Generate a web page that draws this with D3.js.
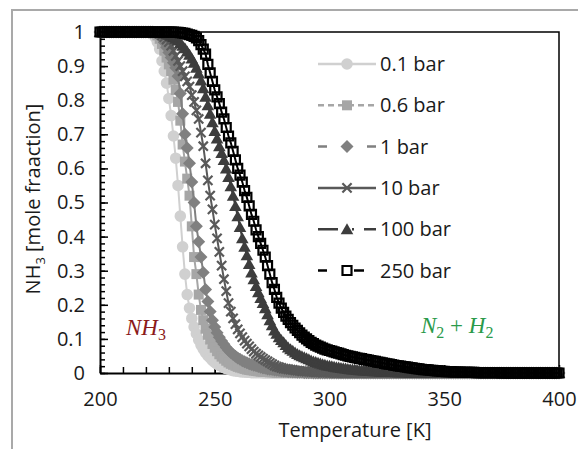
<html>
<head>
<title>NH3 mole fraction vs temperature</title>
<script src="https://d3js.org/d3.v7.min.js"></script>
<style>
	body {margin: 0; background: white;}
	svg {display: block; font-family: "Open Sans", sans-serif;}
</style>
</head>
<body>
<div id="chart"></div>
<script>
// temperature grid [K], one point every kelvin
var temps = d3.range(200, 401);

// NH3 mole fraction, 200..400 K
var bar01 = [
	1,1,1,1,1,1,1,1,1,1,
	1,1,1,1,1,1,1,1,1,1,
	1,0.999,0.997,0.993,0.985,0.97,0.95,0.915,0.885,0.85,
	0.805,0.755,0.695,0.63,0.55,0.46,0.37,0.29,0.23,0.19,
	0.16,0.135,0.115,0.097,0.082,0.07,0.06,0.051,0.044,0.037,
	0.031,0.026,0.022,0.019,0.016,0.013,0.011,0.009,0.007,0.006,
	0.005,0.004,0.003,0.003,0.002,0.002,0.001,0.001,0.001,0.001,
	0.001,0,0,0,0,0,0,0,0,0,
	0,0,0,0,0,0,0,0,0,0,
	0,0,0,0,0,0,0,0,0,0,
	0,0,0,0,0,0,0,0,0,0,
	0,0,0,0,0,0,0,0,0,0,
	0,0,0,0,0,0,0,0,0,0,
	0,0,0,0,0,0,0,0,0,0,
	0,0,0,0,0,0,0,0,0,0,
	0,0,0,0,0,0,0,0,0,0,
	0,0,0,0,0,0,0,0,0,0,
	0,0,0,0,0,0,0,0,0,0,
	0,0,0,0,0,0,0,0,0,0,
	0,0,0,0,0,0,0,0,0,0,
	0
];

var bar06 = [
	1,1,1,1,1,1,1,1,1,1,
	1,1,1,1,1,1,1,1,1,1,
	1,1,1,0.998,0.995,0.99,0.98,0.965,0.945,0.925,
	0.905,0.885,0.86,0.83,0.795,0.74,0.67,0.62,0.57,0.52,
	0.43,0.34,0.29,0.23,0.185,0.155,0.13,0.112,0.098,0.085,
	0.074,0.064,0.055,0.048,0.042,0.036,0.031,0.027,0.024,0.021,
	0.018,0.016,0.014,0.012,0.01,0.009,0.008,0.007,0.006,0.005,
	0.004,0.004,0.003,0.003,0.002,0.002,0.002,0.001,0.001,0.001,
	0.001,0.001,0,0,0,0,0,0,0,0,
	0,0,0,0,0,0,0,0,0,0,
	0,0,0,0,0,0,0,0,0,0,
	0,0,0,0,0,0,0,0,0,0,
	0,0,0,0,0,0,0,0,0,0,
	0,0,0,0,0,0,0,0,0,0,
	0,0,0,0,0,0,0,0,0,0,
	0,0,0,0,0,0,0,0,0,0,
	0,0,0,0,0,0,0,0,0,0,
	0,0,0,0,0,0,0,0,0,0,
	0,0,0,0,0,0,0,0,0,0,
	0,0,0,0,0,0,0,0,0,0,
	0
];

var bar1 = [
	1,1,1,1,1,1,1,1,1,1,
	1,1,1,1,1,1,1,1,1,1,
	1,1,1,1,0.998,0.995,0.99,0.982,0.97,0.955,
	0.94,0.925,0.91,0.895,0.87,0.82,0.76,0.7,0.66,0.615,
	0.56,0.5,0.43,0.385,0.34,0.295,0.245,0.21,0.18,0.155,
	0.135,0.118,0.105,0.094,0.084,0.075,0.067,0.06,0.054,0.049,
	0.044,0.04,0.036,0.033,0.03,0.027,0.025,0.023,0.021,0.019,
	0.017,0.015,0.014,0.012,0.011,0.01,0.009,0.008,0.007,0.006,
	0.005,0.005,0.004,0.004,0.003,0.003,0.002,0.002,0.002,0.001,
	0.001,0.001,0.001,0,0,0,0,0,0,0,
	0,0,0,0,0,0,0,0,0,0,
	0,0,0,0,0,0,0,0,0,0,
	0,0,0,0,0,0,0,0,0,0,
	0,0,0,0,0,0,0,0,0,0,
	0,0,0,0,0,0,0,0,0,0,
	0,0,0,0,0,0,0,0,0,0,
	0,0,0,0,0,0,0,0,0,0,
	0,0,0,0,0,0,0,0,0,0,
	0,0,0,0,0,0,0,0,0,0,
	0,0,0,0,0,0,0,0,0,0,
	0
];

var bar10 = [
	1,1,1,1,1,1,1,1,1,1,
	1,1,1,1,1,1,1,1,1,1,
	1,1,1,1,1,0.998,0.995,0.99,0.985,0.978,
	0.97,0.96,0.945,0.93,0.915,0.9,0.885,0.87,0.855,0.84,
	0.815,0.795,0.77,0.745,0.705,0.665,0.615,0.565,0.52,0.48,
	0.435,0.395,0.355,0.315,0.275,0.24,0.205,0.18,0.16,0.143,
	0.128,0.116,0.105,0.095,0.086,0.078,0.07,0.063,0.057,0.052,
	0.047,0.042,0.038,0.034,0.03,0.026,0.022,0.019,0.017,0.015,
	0.013,0.012,0.011,0.01,0.009,0.008,0.007,0.006,0.005,0.005,
	0.004,0.004,0.003,0.003,0.002,0.002,0.002,0.001,0.001,0.001,
	0.001,0.001,0,0,0,0,0,0,0,0,
	0,0,0,0,0,0,0,0,0,0,
	0,0,0,0,0,0,0,0,0,0,
	0,0,0,0,0,0,0,0,0,0,
	0,0,0,0,0,0,0,0,0,0,
	0,0,0,0,0,0,0,0,0,0,
	0,0,0,0,0,0,0,0,0,0,
	0,0,0,0,0,0,0,0,0,0,
	0,0,0,0,0,0,0,0,0,0,
	0,0,0,0,0,0,0,0,0,0,
	0
];

var bar100 = [
	1,1,1,1,1,1,1,1,1,1,
	1,1,1,1,1,1,1,1,1,1,
	1,1,1,1,1,1,0.999,0.998,0.996,0.994,
	0.992,0.989,0.985,0.98,0.975,0.968,0.96,0.952,0.943,0.933,
	0.922,0.91,0.895,0.878,0.858,0.835,0.81,0.785,0.76,0.735,
	0.71,0.688,0.665,0.645,0.625,0.6,0.575,0.548,0.52,0.49,
	0.46,0.428,0.395,0.37,0.345,0.32,0.295,0.275,0.255,0.237,
	0.22,0.205,0.19,0.172,0.155,0.14,0.125,0.115,0.105,0.097,
	0.09,0.082,0.075,0.07,0.065,0.06,0.056,0.052,0.049,0.046,
	0.043,0.04,0.037,0.034,0.032,0.03,0.028,0.026,0.024,0.022,
	0.021,0.02,0.018,0.017,0.016,0.015,0.014,0.013,0.012,0.011,
	0.01,0.01,0.009,0.008,0.008,0.007,0.007,0.006,0.006,0.005,
	0.005,0.005,0.004,0.004,0.004,0.003,0.003,0.003,0.003,0.002,
	0.002,0.002,0.002,0.002,0.002,0.001,0.001,0.001,0.001,0.001,
	0.001,0.001,0.001,0.001,0.001,0,0,0,0,0,
	0,0,0,0,0,0,0,0,0,0,
	0,0,0,0,0,0,0,0,0,0,
	0,0,0,0,0,0,0,0,0,0,
	0,0,0,0,0,0,0,0,0,0,
	0,0,0,0,0,0,0,0,0,0,
	0
];

var bar250 = [
	1,1,1,1,1,1,1,1,1,1,
	1,1,1,1,1,1,1,1,1,1,
	1,1,1,1,1,1,1,1,1,1,
	1,1,1,0.999,0.999,0.998,0.997,0.996,0.994,0.992,
	0.99,0.987,0.983,0.975,0.963,0.95,0.935,0.905,0.88,0.855,
	0.83,0.81,0.79,0.765,0.745,0.72,0.695,0.675,0.65,0.625,
	0.6,0.58,0.56,0.535,0.515,0.49,0.465,0.445,0.42,0.4,
	0.38,0.36,0.34,0.315,0.29,0.265,0.245,0.222,0.205,0.19,
	0.178,0.167,0.157,0.148,0.14,0.132,0.125,0.118,0.111,0.105,
	0.1,0.095,0.09,0.086,0.082,0.079,0.076,0.073,0.07,0.068,
	0.066,0.064,0.062,0.06,0.058,0.056,0.054,0.052,0.05,0.049,
	0.047,0.046,0.044,0.043,0.042,0.04,0.039,0.038,0.036,0.035,
	0.034,0.032,0.031,0.03,0.028,0.027,0.026,0.025,0.023,0.022,
	0.021,0.02,0.019,0.018,0.017,0.016,0.015,0.014,0.013,0.012,
	0.011,0.01,0.01,0.009,0.008,0.008,0.007,0.006,0.006,0.005,
	0.005,0.004,0.004,0.004,0.003,0.003,0.003,0.003,0.002,0.002,
	0.002,0.002,0.002,0.002,0.001,0.001,0.001,0.001,0.001,0.001,
	0.001,0.001,0.001,0.001,0.001,0,0,0,0,0,
	0,0,0,0,0,0,0,0,0,0,
	0,0,0,0,0,0,0,0,0,0,
	0
];

var seriesNames = ["0.1 bar", "0.6 bar", "1 bar", "10 bar", "100 bar", "250 bar"];
var seriesValues = [bar01, bar06, bar1, bar10, bar100, bar250];

var xTicks = [200, 250, 300, 350, 400];
var yTicks = [0, 0.1, 0.2, 0.3, 0.4, 0.5, 0.6, 0.7, 0.8, 0.9, 1];
var yTickLabels = ["0", "0.1", "0.2", "0.3", "0.4", "0.5", "0.6", "0.7", "0.8", "0.9", "1"];

// look of each series: marker shape, colour, legend dash
var shapes = ["circle", "square", "diamond", "cross", "triangle", "open"];
var colors = ["#d0d0d0", "#a6a6a6", "#808080", "#595959", "#3d3d3d", "#000000"];
var legendDash = ["none", "6,4", "9,40,10", "none", "20,14,2,10,12", "9,27,10,100"];

var width = 578, height = 449;

var svg = d3.select("#chart").append("svg")
	.attr("width", width)
	.attr("height", height);

// light grey outer frame of the figure
svg.append("rect")
	.attr("x", 12).attr("y", 10)
	.attr("width", 600).attr("height", 500)
	.style("fill", "none")
	.style("stroke", "#a9a9a9")
	.style("stroke-width", 2);

var xScale = d3.scaleLinear().domain([200, 400]).range([100, 559]);
var yScale = d3.scaleLinear().domain([0, 1]).range([373, 32]);

// top and right border of the plot area
svg.append("path")
	.attr("d", "M" + xScale(200) + "," + yScale(1) + "H" + xScale(400) + "V" + yScale(0))
	.style("fill", "none")
	.style("stroke", "black")
	.style("stroke-width", 1.5);

// minor ticks
svg.append("g")
	.attr("transform", "translate(0," + yScale(0) + ")")
	.call(d3.axisBottom(xScale).tickValues(d3.range(200, 401, 10)).tickSize(-6).tickSizeOuter(0).tickFormat(""))
	.call(function(g) { g.select(".domain").remove(); });

svg.append("g")
	.attr("transform", "translate(" + xScale(200) + ",0)")
	.call(d3.axisLeft(yScale).tickValues(d3.range(0, 51).map(function(i) { return i / 50; })).tickSize(-5).tickSizeOuter(0).tickFormat(""))
	.call(function(g) { g.select(".domain").remove(); });

// major axes
svg.append("g")
	.attr("transform", "translate(0," + yScale(0) + ")")
	.call(d3.axisBottom(xScale).tickValues(xTicks).tickSize(-8).tickSizeOuter(0).tickPadding(19));

svg.append("g")
	.attr("transform", "translate(" + xScale(200) + ",0)")
	.call(d3.axisLeft(yScale).tickValues(yTicks).tickSize(-8).tickSizeOuter(0).tickPadding(15)
		.tickFormat(function(d, i) { return yTickLabels[i]; }));

svg.selectAll(".tick line").style("stroke", "black").style("stroke-width", 1.5);
svg.selectAll(".domain").style("stroke", "black").style("stroke-width", 2);
svg.selectAll(".tick text")
	.style("font-family", "'Open Sans', sans-serif")
	.style("font-size", "20px")
	.style("fill", "#1a1a1a");

// axis titles
svg.append("text")
	.attr("x", 355)
	.attr("y", 437)
	.attr("text-anchor", "middle")
	.style("font-size", "20px")
	.style("fill", "#1a1a1a")
	.text("Temperature [K]");

var yTitle = svg.append("text")
	.attr("transform", "translate(40,199) rotate(-90)")
	.attr("text-anchor", "middle")
	.style("font-size", "20px")
	.style("fill", "#1a1a1a");
yTitle.append("tspan").text("NH");
yTitle.append("tspan").attr("dy", 5).style("font-size", "13px").text("3");
yTitle.append("tspan").attr("dy", -5).text(" [mole fraaction]");

// marker path for a shape
function markerPath(shape) {
	if (shape == "circle") return d3.symbol().type(d3.symbolCircle).size(105)();
	if (shape == "square") return "M-5,-5h10v10h-10z";
	if (shape == "diamond") return "M0,-6.5L6.5,0L0,6.5L-6.5,0Z";
	if (shape == "cross") return "M-4.6,-4.6L4.6,4.6M-4.6,4.6L4.6,-4.6";
	if (shape == "triangle") return "M0,-6L6.3,5L-6.3,5Z";
	return "M-4.5,-4.5h9v9h-9z";
}

function styleMarker(sel, i) {
	var shape = shapes[i];
	sel.attr("d", markerPath(shape));
	if (shape == "cross") {
		sel.style("fill", "none").style("stroke", colors[i]).style("stroke-width", 2.2);
	} else if (shape == "open") {
		sel.style("fill", "none").style("stroke", "black").style("stroke-width", 2.2);
	} else {
		sel.style("fill", colors[i]).style("stroke", "none");
	}
}

var line = d3.line()
	.x(function(d) { return xScale(d[0]); })
	.y(function(d) { return yScale(d[1]); });

// draw the series, lightest first
seriesValues.forEach(function(values, i) {
	var pts = temps.map(function(t, k) { return [t, values[k]]; });
	var g = svg.append("g").attr("class", "series");
	g.append("path")
		.datum(pts)
		.attr("d", line)
		.style("fill", "none")
		.style("stroke", colors[i])
		.style("stroke-width", 2);
	g.selectAll(".mark")
		.data(pts)
		.enter()
		.append("path")
		.attr("class", "mark")
		.attr("transform", function(d) { return "translate(" + xScale(d[0]) + "," + yScale(d[1]) + ")"; })
		.call(styleMarker, i);
});

// legend
var legend = svg.append("g");
seriesNames.forEach(function(name, i) {
	var ly = 64 + i * 41.3;
	legend.append("line")
		.attr("x1", 318).attr("x2", 376)
		.attr("y1", ly).attr("y2", ly)
		.style("stroke", colors[i])
		.style("stroke-width", 2.5)
		.style("stroke-dasharray", legendDash[i]);
	var m = legend.append("path")
		.attr("transform", "translate(347," + ly + ")")
		.call(styleMarker, i);
	if (shapes[i] == "open") m.style("fill", "white");
	legend.append("text")
		.attr("x", 380)
		.attr("y", ly + 7)
		.style("font-size", "20px")
		.style("fill", "#1a1a1a")
		.text(name);
});

// phase labels
var nh3 = svg.append("text")
	.attr("x", 126).attr("y", 335)
	.style("font-family", "'Liberation Serif', serif")
	.style("font-style", "italic")
	.style("font-size", "23px")
	.style("fill", "#8b1a1a");
nh3.append("tspan").text("NH");
nh3.append("tspan").attr("dy", 5).style("font-style", "normal").style("font-size", "16px").text("3");

var n2h2 = svg.append("text")
	.attr("x", 421).attr("y", 333)
	.style("font-family", "'Liberation Serif', serif")
	.style("font-style", "italic")
	.style("font-size", "23px")
	.style("fill", "#2a9a4a");
n2h2.append("tspan").text("N");
n2h2.append("tspan").attr("dy", 5).style("font-style", "normal").style("font-size", "16px").text("2");
n2h2.append("tspan").attr("dy", -5).style("font-style", "normal").text(" + ");
n2h2.append("tspan").text("H");
n2h2.append("tspan").attr("dy", 5).style("font-style", "normal").style("font-size", "16px").text("2");
</script>
</body>
</html>
